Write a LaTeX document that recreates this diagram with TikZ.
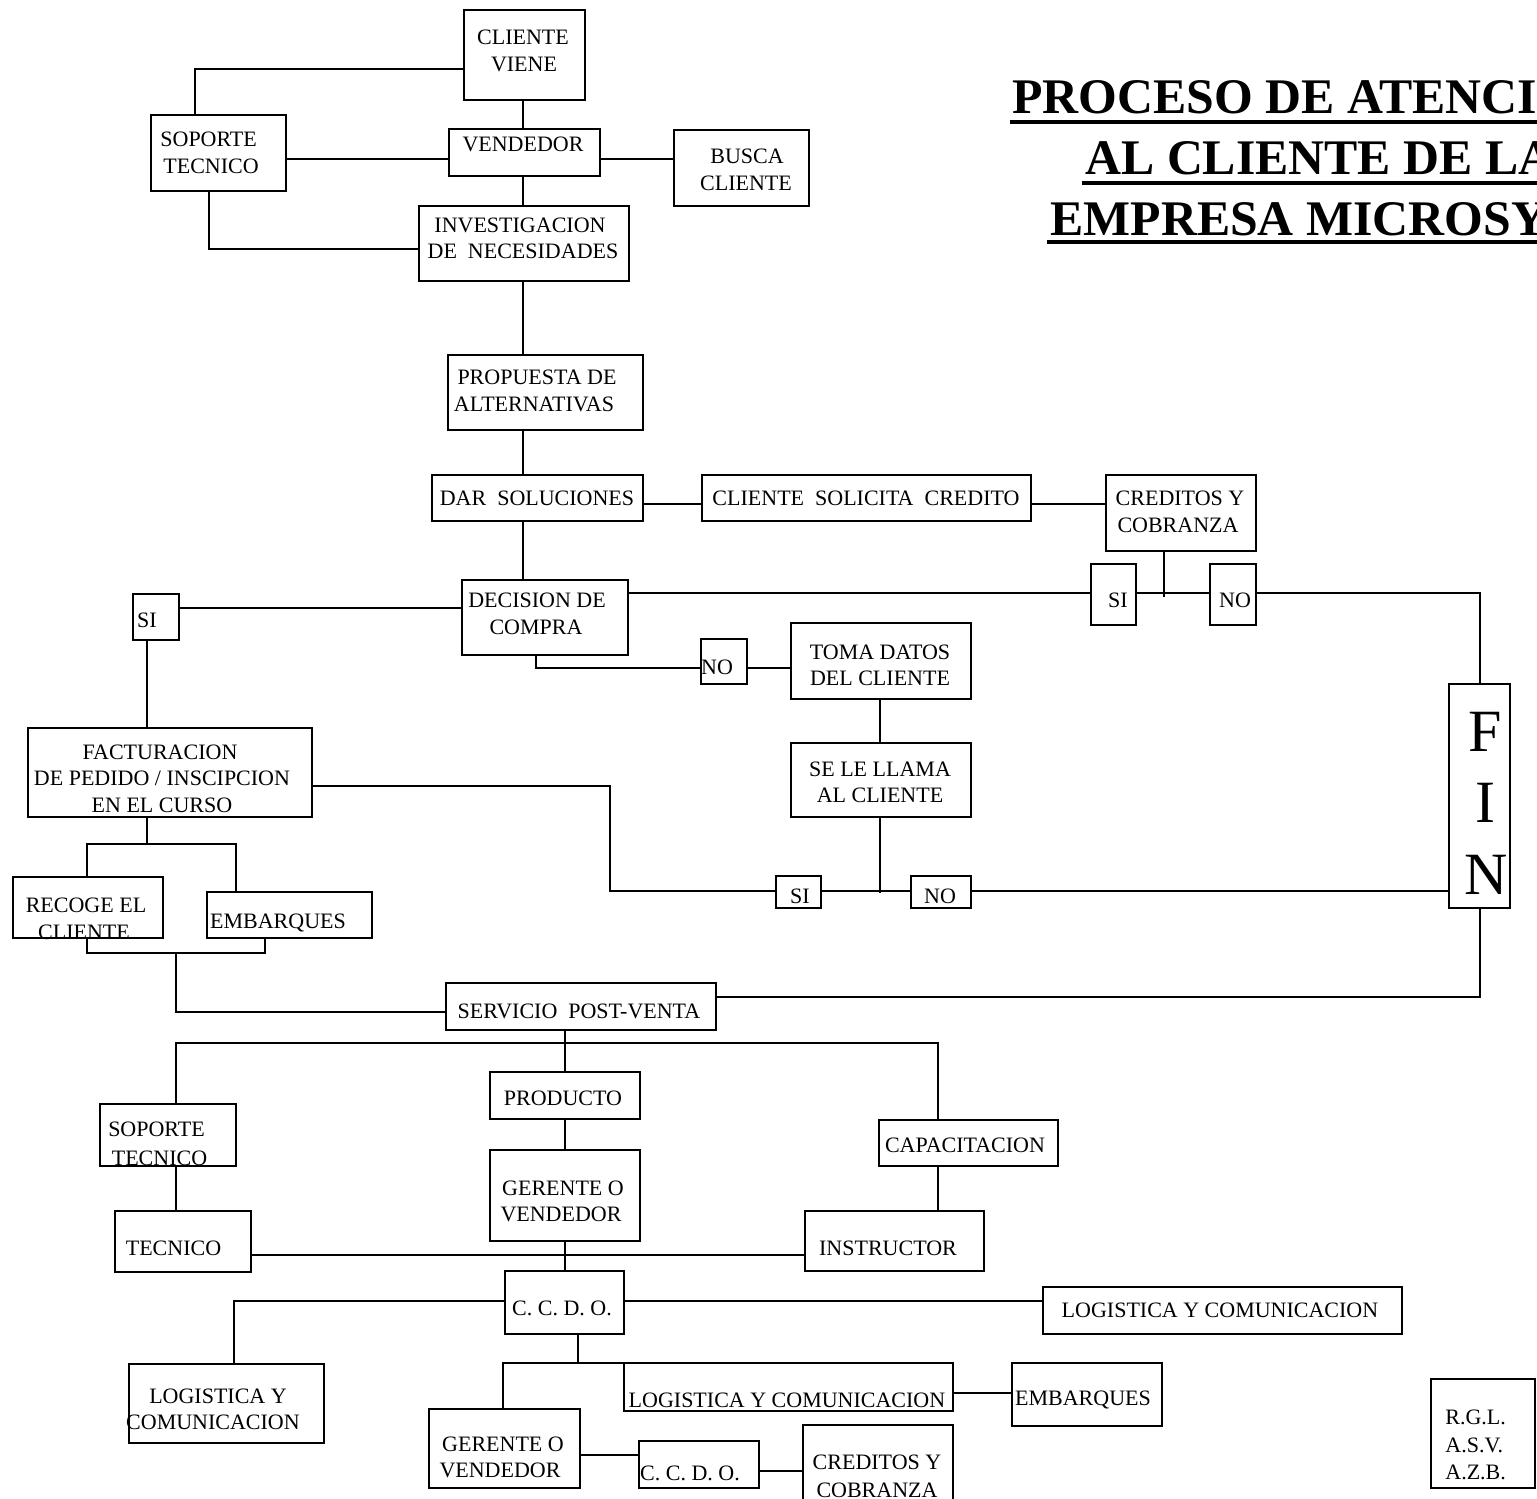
\documentclass[tikz,border=0pt]{standalone}
\usepackage{fontspec}
\setmainfont{Liberation Serif}
\begin{document}
\begin{tikzpicture}[x=0.5pt,y=-0.5pt,
  procbox/.style={draw, line width=1.4pt, inner sep=0pt, outer sep=0pt},
  conn/.style={line width=1.35pt},
  ctext/.style={inner sep=0pt, anchor=base, font=\fontsize{11}{13}\selectfont},
  ltext/.style={inner sep=0pt, anchor=base west, font=\fontsize{11}{13}\selectfont},
  ttext/.style={inner sep=0pt, anchor=base west, font=\fontsize{24.9}{28}\selectfont\bfseries},
  fintext/.style={inner sep=0pt, anchor=base, font=\fontsize{30}{34}\selectfont}]
\useasboundingbox (0,0) rectangle (1537,1499);

% box: name, left, top, right, bottom (in pixel units)
\newcommand\flowbox[5]{\node[procbox, minimum width={(#4-#2)*0.5pt}, minimum height={(#5-#3)*0.5pt}] (#1) at ({(#2+#4)/2},{(#3+#5)/2}) {};}
% text line: name, x, cap-centre y, text
\newcommand\txtc[4]{\node[ctext] (#1) at (#2,{#3+7.3}) {#4};}
\newcommand\txtl[4]{\node[ltext] (#1) at (#2,{#3+7.3}) {#4};}

% ---------- title ----------
\node[ttext] (ti1) at (1012,113) {PROCESO DE ATENCI};
\node[ttext] (ti2) at (1085,174) {AL CLIENTE DE LA};
\node[ttext] (ti3) at (1050,235) {EMPRESA MICROSY};
\coordinate (u1a) at (1010,122); \coordinate (u1b) at (1560,122);
\coordinate (u2a) at (1082,183); \coordinate (u2b) at (1560,183);
\coordinate (u3a) at (1047,242); \coordinate (u3b) at (1560,242);
\draw[line width=2pt] (u1a) -- (u1b) (u2a) -- (u2b) (u3a) -- (u3b);

% ---------- boxes ----------
\flowbox{cv}{464}{10}{585}{100}
\flowbox{st1}{151}{115}{286}{191}
\flowbox{vend}{449}{129}{600}{176}
\flowbox{busca}{674}{130}{809}{206}
\flowbox{inv}{419}{206}{629}{281}
\flowbox{prop}{448}{355}{643}{430}
\flowbox{dar}{432}{475}{643}{521}
\flowbox{csc}{702}{475}{1031}{521}
\flowbox{cred1}{1106}{475}{1256}{551}
\flowbox{dec}{462}{580}{628}{655}
\flowbox{si1}{133}{594}{179}{640}
\flowbox{no1}{701}{639}{747}{684}
\flowbox{toma}{791}{623}{971}{699}
\flowbox{si2}{1091}{564}{1136}{625}
\flowbox{no2}{1210}{564}{1256}{625}
\flowbox{fac}{28}{728}{312}{817}
\flowbox{llama}{791}{743}{971}{817}
\flowbox{fin}{1449}{684}{1510}{908}
\flowbox{rec}{13}{877}{163}{938}
\flowbox{emb1}{207}{892}{372}{938}
\flowbox{si3}{776}{876}{821}{908}
\flowbox{no3}{911}{876}{971}{908}
\flowbox{serv}{446}{983}{716}{1030}
\flowbox{prod}{490}{1072}{640}{1119}
\flowbox{st2}{100}{1104}{236}{1166}
\flowbox{cap}{879}{1120}{1058}{1166}
\flowbox{ger1}{490}{1150}{640}{1241}
\flowbox{tec}{115}{1211}{251}{1272}
\flowbox{inst}{805}{1211}{984}{1271}
\flowbox{ccdo1}{505}{1271}{624}{1334}
\flowbox{log3}{1043}{1287}{1402}{1334}
\flowbox{log1}{129}{1364}{324}{1443}
\flowbox{log2}{624}{1363}{953}{1411}
\flowbox{emb2}{1012}{1363}{1162}{1426}
\flowbox{ger2}{429}{1409}{580}{1488}
\flowbox{ccdo2}{639}{1441}{759}{1488}
\flowbox{cred2}{803}{1425}{953}{1515}
\flowbox{rgl}{1431}{1379}{1535}{1488}

% ---------- texts ----------
\txtc{a1}{523}{37}{CLIENTE}
\txtc{a2}{524}{64}{VIENE}
\txtl{b1}{160}{139.5}{SOPORTE}
\txtl{b2}{163}{166}{TECNICO}
\txtc{c1}{523}{144.5}{VENDEDOR}
\txtc{d1}{747}{156.5}{BUSCA}
\txtc{d2}{746}{183.5}{CLIENTE}
\txtc{e1}{520}{225.5}{INVESTIGACION}
\txtc{e2}{523}{251}{DE\ \ NECESIDADES}
\txtc{f1}{537}{377}{PROPUESTA DE}
\txtc{f2}{534}{404}{ALTERNATIVAS}
\txtc{g1}{537}{498.5}{DAR\ \ SOLUCIONES}
\txtc{h1}{866}{498}{CLIENTE\ \ SOLICITA\ \ CREDITO}
\txtc{i1}{1180}{498}{CREDITOS Y}
\txtc{i2}{1178}{525}{COBRANZA}
\txtc{j1}{537}{600.5}{DECISION DE}
\txtc{j2}{536}{627.5}{COMPRA}
\txtc{m1}{147}{620.5}{SI}
\txtc{m2}{717}{667.5}{NO}
\txtc{n1}{880}{652}{TOMA DATOS}
\txtc{n2}{880}{678}{DEL CLIENTE}
\txtc{m3}{1118}{600}{SI}
\txtc{m4}{1235}{600.5}{NO}
\txtc{o1}{880}{769}{SE LE LLAMA}
\txtc{o2}{880}{795}{AL CLIENTE}
\txtc{p1}{160}{752}{FACTURACION}
\txtc{p2}{162}{778}{DE PEDIDO / INSCIPCION}
\txtc{p3}{162}{805}{EN EL CURSO}
\txtc{q1}{86}{905}{RECOGE EL}
\txtc{q2}{84}{932}{CLIENTE}
\txtc{q3}{278}{921}{EMBARQUES}
\txtc{m5}{800}{896}{SI}
\txtc{m6}{940}{896}{NO}
\txtc{s1}{579}{1011}{SERVICIO\ \ POST-VENTA}
\txtc{s2}{563}{1098}{PRODUCTO}
\txtc{s3}{156.5}{1129}{SOPORTE}
\txtc{s4}{159.5}{1158}{TECNICO}
\txtc{s5}{563}{1188}{GERENTE O}
\txtc{s6}{561}{1214}{VENDEDOR}
\txtc{s7}{173.5}{1248}{TECNICO}
\txtc{s8}{965}{1145}{CAPACITACION}
\txtc{s9}{888}{1248}{INSTRUCTOR}
\txtc{v1}{562}{1308}{C. C. D. O.}
\txtc{v2}{1220}{1310}{LOGISTICA Y COMUNICACION}
\txtc{v3}{218}{1396}{LOGISTICA Y}
\txtc{v4}{213}{1422}{COMUNICACION}
\txtc{v5}{787}{1400}{LOGISTICA Y COMUNICACION}
\txtc{v6}{1083}{1398}{EMBARQUES}
\txtc{w1}{503}{1444}{GERENTE O}
\txtc{w2}{500}{1470}{VENDEDOR}
\txtc{w3}{690}{1473}{C. C. D. O.}
\txtc{w4}{877}{1462}{CREDITOS Y}
\txtc{w5}{877}{1490}{COBRANZA}
\txtl{x1}{1445}{1417}{R.G.L.}
\txtl{x2}{1445}{1445}{A.S.V.}
\txtl{x3}{1445}{1472}{A.Z.B.}

\node[fintext] (fF) at (1485,751) {F};
\node[fintext] (fI) at (1485,822) {I};
\node[fintext] (fN) at (1486,894) {N};

% ---------- connectors ----------
\coordinate (spine) at (523,0);
\draw[conn] (spine |- cv.south) -- (spine |- vend.north);
\coordinate (k1) at (195,69);
\draw[conn] (cv.west |- k1) -- (k1) -- (k1 |- st1.north);
\coordinate (r1) at (0,159);
\draw[conn] (st1.east |- r1) -- (vend.west |- r1);
\draw[conn] (vend.east |- r1) -- (busca.west |- r1);
\draw[conn] (spine |- vend.south) -- (spine |- inv.north);
\coordinate (k2) at (209,249);
\draw[conn] (k2 |- st1.south) -- (k2) -- (inv.west |- k2);
\draw[conn] (spine |- inv.south) -- (spine |- prop.north);
\draw[conn] (spine |- prop.south) -- (spine |- dar.north);
\coordinate (r2) at (0,504);
\draw[conn] (dar.east |- r2) -- (csc.west |- r2);
\draw[conn] (csc.east |- r2) -- (cred1.west |- r2);
\draw[conn] (spine |- dar.south) -- (spine |- dec.north);

% credit answer
\coordinate (r3) at (0,593);
\coordinate (k3) at (1164,597);
\draw[conn] (k3 |- cred1.south) -- (k3);
\draw[conn] (dec.east |- r3) -- (si2.west |- r3);
\draw[conn] (si2.east |- r3) -- (no2.west |- r3);
\coordinate (k4) at (1480,593);
\draw[conn] (no2.east |- k4) -- (k4) -- (k4 |- fin.north);

% purchase decision
\coordinate (r4) at (0,608);
\draw[conn] (dec.west |- r4) -- (si1.east |- r4);
\coordinate (k5) at (147,0);
\draw[conn] (k5 |- si1.south) -- (k5 |- fac.north);
\coordinate (k6) at (536,668);
\draw[conn] (k6 |- dec.south) -- (k6) -- (no1.west |- k6);
\draw[conn] (no1.east |- k6) -- (toma.west |- k6);
\coordinate (k7) at (880,893);
\coordinate (r5) at (0,891);
\draw[conn] (k7 |- toma.south) -- (k7 |- llama.north);
\draw[conn] (k7 |- llama.south) -- (k7);
\coordinate (k8) at (610,786);
\draw[conn] (fac.east |- k8) -- (k8) -- (k8 |- r5) -- (si3.west |- r5);
\draw[conn] (si3.east |- r5) -- (no3.west |- r5);
\draw[conn] (no3.east |- r5) -- (fin.west |- r5);

% billing split
\coordinate (k9) at (147,844);
\draw[conn] (k5 |- fac.south) -- (k9);
\coordinate (k10) at (87,844);
\coordinate (k11) at (236,844);
\draw[conn] (k10 |- rec.north) -- (k10) -- (k11) -- (k11 |- emb1.north);
\coordinate (k12) at (87,953);
\coordinate (k13) at (265,953);
\draw[conn] (k12 |- rec.south) -- (k12) -- (k13) -- (k13 |- emb1.south);
\coordinate (k14) at (176,953);
\coordinate (k15) at (176,1012);
\draw[conn] (k14) -- (k15) -- (serv.west |- k15);
\coordinate (k16) at (1480,997);
\draw[conn] (k16 |- fin.south) -- (k16) -- (serv.east |- k16);

% post-sale service
\coordinate (k17) at (565,1043);
\coordinate (k18) at (176,1043);
\coordinate (k19) at (938,1043);
\draw[conn] (k17 |- serv.south) -- (k17) -- (k17 |- prod.north);
\draw[conn] (k18 |- st2.north) -- (k18) -- (k19) -- (k19 |- cap.north);
\draw[conn] (k17 |- prod.south) -- (k17 |- ger1.north);
\draw[conn] (k18 |- st2.south) -- (k18 |- tec.north);
\draw[conn] (k19 |- cap.south) -- (k19 |- inst.north);
\coordinate (r6) at (0,1255);
\draw[conn] (tec.east |- r6) -- (inst.west |- r6);
\draw[conn] (k17 |- ger1.south) -- (k17 |- ccdo1.north);
\coordinate (k20) at (234,1301);
\draw[conn] (ccdo1.west |- k20) -- (k20) -- (k20 |- log1.north);
\draw[conn] (ccdo1.east |- k20) -- (log3.west |- k20);
\coordinate (k21) at (578,1363);
\coordinate (k22) at (503,1363);
\draw[conn] (k21 |- ccdo1.south) -- (k21);
\draw[conn] (k22 |- ger2.north) -- (k22) -- (log2.north west);
\coordinate (r7) at (0,1393);
\draw[conn] (log2.east |- r7) -- (emb2.west |- r7);
\coordinate (r8) at (0,1455);
\draw[conn] (ger2.east |- r8) -- (ccdo2.west |- r8);
\coordinate (r9) at (0,1471);
\draw[conn] (ccdo2.east |- r9) -- (cred2.west |- r9);
\end{tikzpicture}
\end{document}
